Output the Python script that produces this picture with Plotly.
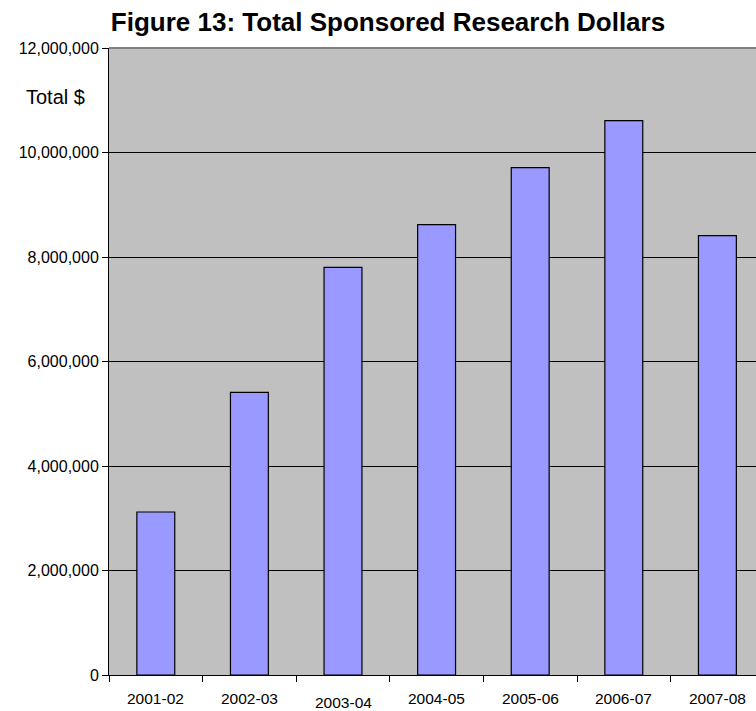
import plotly.graph_objects as go

categories = ["2001-02", "2002-03", "2003-04", "2004-05", "2005-06", "2006-07", "2007-08"]
values = [3120000, 5410000, 7800000, 8620000, 9710000, 10610000, 8410000]
y_ticks = [0, 2000000, 4000000, 6000000, 8000000, 10000000, 12000000]
y_tick_labels = ["0", "2,000,000", "4,000,000", "6,000,000", "8,000,000", "10,000,000", "12,000,000"]
label_shift = [0, 0, -4, 0, 0, 0, 0]

W, H = 756, 711
L, T, B = 109, 48, 36
cat_w = 93.6
x_end = (W - L) / cat_w - 0.5

fig = go.Figure()
fig.add_trace(go.Bar(
    x=categories, y=values,
    marker=dict(color="#9999FF", line=dict(color="black", width=1.2)),
    width=0.405,
))

font = "Liberation Sans, Arial, sans-serif"

annotations = []
for c, s in zip(categories, label_shift):
    annotations.append(dict(
        x=c, y=0, xref="x", yref="y", text=c, showarrow=False,
        yanchor="middle", yshift=-23 + s,
        font=dict(family=font, size=15.5, color="black"),
    ))
annotations.append(dict(
    x=0, y=1, xref="paper", yref="paper", text="Total $", showarrow=False,
    xanchor="right", yanchor="middle", xshift=-22, yshift=-49,
    font=dict(family=font, size=20, color="black"),
))

fig.update_layout(
    width=W, height=H,
    margin=dict(l=L, r=0, t=T, b=B),
    paper_bgcolor="white",
    plot_bgcolor="#C0C0C0",
    showlegend=False,
    title=dict(
        text="<b>Figure 13: Total Sponsored Research Dollars</b>",
        xref="container", yref="container",
        x=388 / W, y=1 - 22 / H, xanchor="center", yanchor="middle",
        font=dict(family=font, size=26, color="black"),
    ),
    annotations=annotations,
    shapes=[dict(type="line", xref="paper", yref="paper", x0=0, x1=1, y0=1, y1=1,
                 line=dict(color="#808080", width=2))],
    xaxis=dict(
        type="category", range=[-0.5, x_end],
        showticklabels=False,
        ticks="outside", tickson="boundaries", ticklen=6, tickcolor="black",
        showline=True, linecolor="black", linewidth=1,
        showgrid=False, zeroline=False,
    ),
    yaxis=dict(
        range=[0, 12000000],
        tickvals=y_ticks, ticktext=y_tick_labels,
        ticks="outside", ticklen=6, tickcolor="black",
        tickfont=dict(family=font, size=16, color="black"),
        showline=True, linecolor="black", linewidth=1,
        showgrid=True, gridcolor="black", gridwidth=1,
        zeroline=False,
    ),
)

fig.write_html(
    "out.html",
    config={"displayModeBar": False},
    post_script="document.body.style.margin='0px';document.body.style.overflow='hidden';",
)
